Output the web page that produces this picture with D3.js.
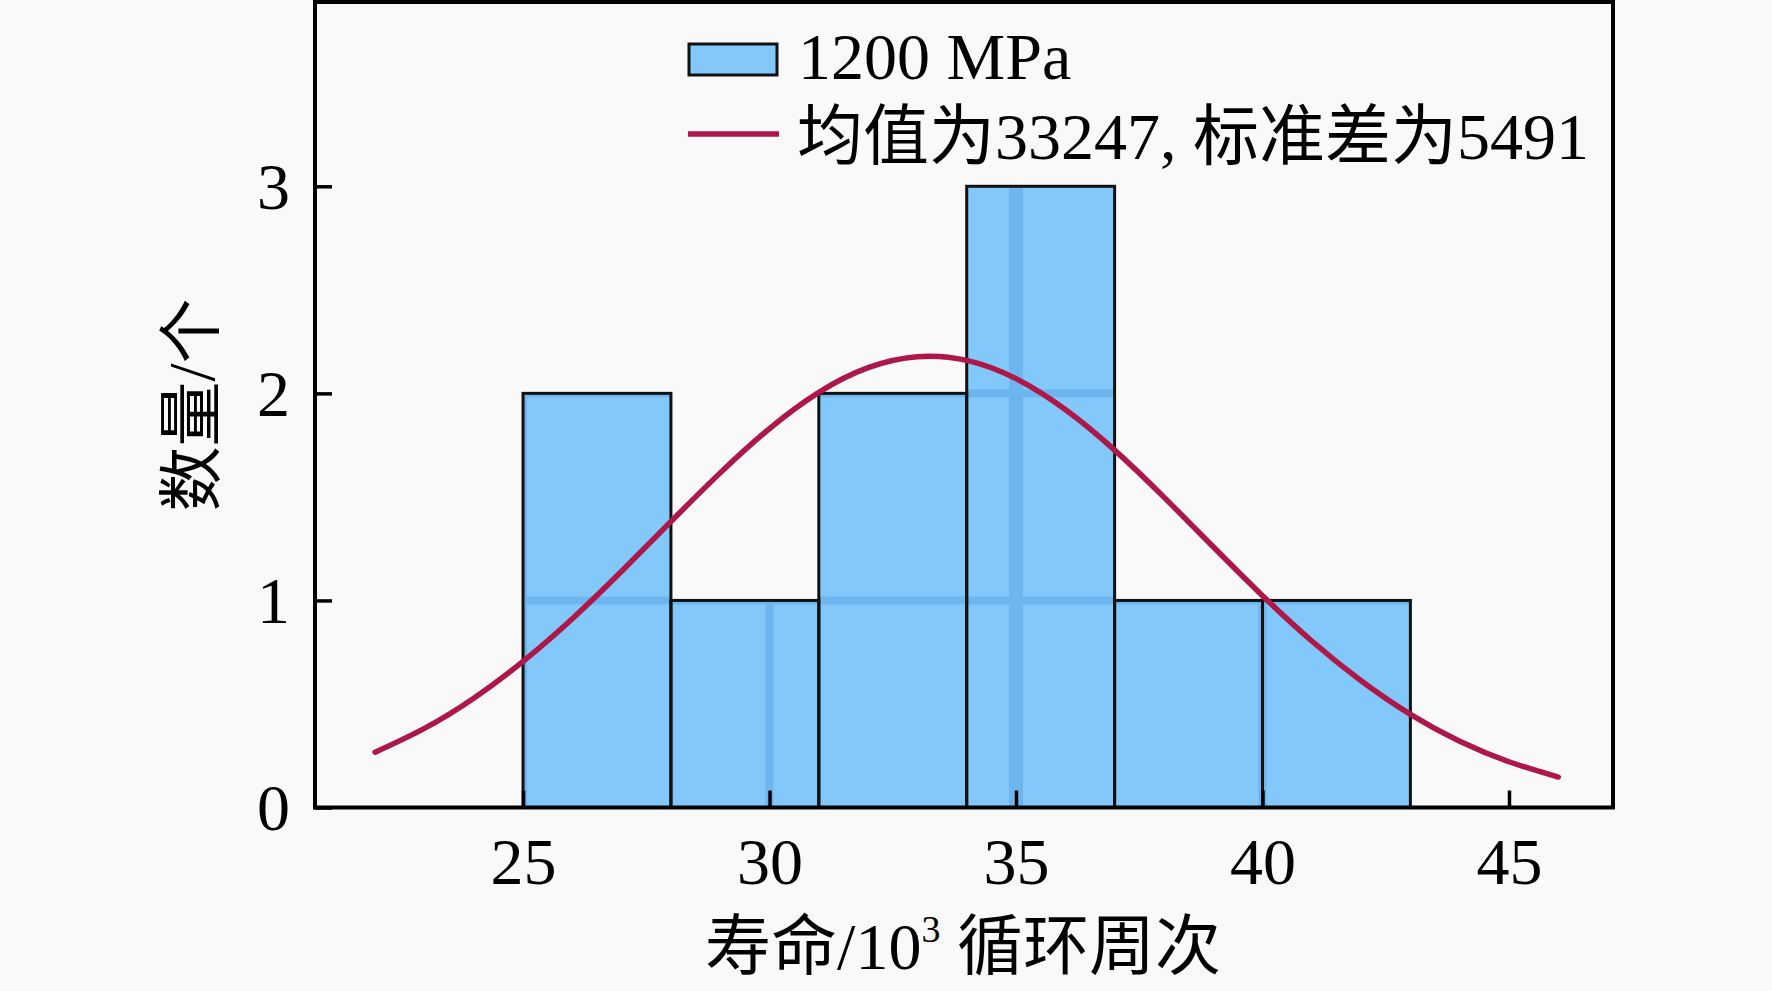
<!DOCTYPE html>
<html>
<head>
<meta charset="utf-8">
<script src="https://cdn.jsdelivr.net/npm/d3@7"></script>
<style>
  html, body { margin: 0; padding: 0; background: #f9f9f9; }
  svg { display: block; }
  text { font-family: "Liberation Serif", "Noto Sans CJK SC", serif; fill: #000; }
</style>
</head>
<body>
<svg id="chart" width="1772" height="991"></svg>
<script>
// ---- data ----
const binLeft  = [25, 28, 31, 34, 37, 40];
const binRight = [28, 31, 34, 37, 40, 43];
const counts   = [2, 1, 2, 3, 1, 1];

// fitted normal curve (mean 33247, sd 5491), read as points
const curveX = [22, 23, 24, 25, 26, 27, 28, 29, 30, 31, 32, 33, 34, 35, 36, 37, 38, 39, 40, 41, 42, 43, 44, 45, 46];
const curveY = [0.267, 0.382, 0.528, 0.706, 0.912, 1.141, 1.381, 1.616, 1.830, 2.005, 2.124, 2.177, 2.159, 2.071, 1.922, 1.726, 1.499, 1.259, 1.023, 0.804, 0.612, 0.450, 0.320, 0.221, 0.147];

const xTicks = [25, 30, 35, 40, 45];
const yTicks = [0, 1, 2, 3];
const gridX = [25, 30, 35, 40];
const gridY = [1, 2];

const legendBar = "1200 MPa";
const legendCurve = "均值为33247, 标准差为5491";
const xLabelMain = "寿命/10";
const xLabelSup = "3";
const xLabelRest = " 循环周次";
const yLabel = "数量/个";

// ---- drawing ----
const svg = d3.select("#chart");
const x = d3.scaleLinear().domain([20.78, 47.11]).range([315, 1613]);
const y = d3.scaleLinear().domain([0, 3.89]).range([807.5, 2]);

svg.append("rect").attr("width", 1772).attr("height", 991).attr("fill", "#f9f9f9");

const bins = counts.map((c, i) => ({ x0: binLeft[i], x1: binRight[i], c }));

const defs = svg.append("defs");
const clip = defs.append("clipPath").attr("id", "barclip");
clip.selectAll("rect").data(bins).join("rect")
  .attr("x", d => x(d.x0)).attr("width", d => x(d.x1) - x(d.x0))
  .attr("y", d => y(d.c)).attr("height", d => y(0) - y(d.c));

svg.append("g").selectAll("rect").data(bins).join("rect")
  .attr("x", d => x(d.x0)).attr("width", d => x(d.x1) - x(d.x0))
  .attr("y", d => y(d.c)).attr("height", d => y(0) - y(d.c))
  .attr("fill", "#83c8fa");

const stripes = svg.append("g").attr("clip-path", "url(#barclip)");
stripes.selectAll("line.v").data(gridX).join("line").attr("class", "v")
  .attr("x1", d => x(d)).attr("x2", d => x(d)).attr("y1", y(3.89)).attr("y2", y(0))
  .attr("stroke", "#6db5ee").attr("stroke-width", d => d === 35 ? 14 : 8);
stripes.selectAll("line.h").data(gridY).join("line").attr("class", "h")
  .attr("x1", x(20.78)).attr("x2", x(47.11)).attr("y1", d => y(d)).attr("y2", d => y(d))
  .attr("stroke", "#6db5ee").attr("stroke-width", 8);

svg.append("g").selectAll("rect").data(bins).join("rect")
  .attr("x", d => x(d.x0)).attr("width", d => x(d.x1) - x(d.x0))
  .attr("y", d => y(d.c)).attr("height", d => y(0) - y(d.c))
  .attr("fill", "none").attr("stroke", "#111").attr("stroke-width", 3);

// curve
const line = d3.line().x(d => x(d[0])).y(d => y(d[1])).curve(d3.curveNatural);
svg.append("path").datum(curveX.map((v, i) => [v, curveY[i]]))
  .attr("d", line).attr("fill", "none").attr("stroke", "#ad1849").attr("stroke-width", 5.5)
  .attr("stroke-linecap", "round");

// frame
svg.append("rect").attr("x", x(20.78)).attr("y", y(3.89))
  .attr("width", x(47.11) - x(20.78)).attr("height", y(0) - y(3.89))
  .attr("fill", "none").attr("stroke", "#000").attr("stroke-width", 4);

// axes
const xAxis = d3.axisBottom(x).tickValues(xTicks).tickSize(-17).tickPadding(0).tickFormat(d3.format("d"));
const gx = svg.append("g").attr("transform", `translate(0,${y(0)})`).call(xAxis);
gx.select(".domain").remove();
gx.selectAll(".tick line").attr("stroke", "#000").attr("stroke-width", 3.5);
gx.selectAll(".tick text").attr("font-size", 66).attr("dy", null).attr("y", 76)
  .attr("font-family", "Liberation Serif");

const yAxis = d3.axisLeft(y).tickValues(yTicks).tickSize(-17).tickPadding(0).tickFormat(d3.format("d"));
const gy = svg.append("g").attr("transform", `translate(${x(20.78)},0)`).call(yAxis);
gy.select(".domain").remove();
gy.selectAll(".tick line").attr("stroke", "#000").attr("stroke-width", 3.5);
gy.selectAll(".tick text").attr("font-size", 66).attr("x", -25).attr("dy", "0.34em")
  .attr("font-family", "Liberation Serif");

// axis titles
const xt = svg.append("text").attr("x", 963).attr("y", 969).attr("text-anchor", "middle").attr("font-size", 66);
xt.append("tspan").text(xLabelMain);
xt.append("tspan").text(xLabelSup).attr("font-size", 38).attr("dy", -27);
xt.append("tspan").text(xLabelRest).attr("dy", 27);

svg.append("text").attr("transform", "translate(214,405) rotate(-90)")
  .attr("text-anchor", "middle").attr("font-size", 65).text(yLabel);

// legend
svg.append("rect").attr("x", 689).attr("y", 44).attr("width", 88).attr("height", 31)
  .attr("fill", "#83c8fa").attr("stroke", "#111").attr("stroke-width", 3);
svg.append("text").attr("x", 798).attr("y", 79).attr("font-size", 66).text(legendBar);
svg.append("line").attr("x1", 688).attr("x2", 779).attr("y1", 134).attr("y2", 134)
  .attr("stroke", "#ad1849").attr("stroke-width", 5.5);
svg.append("text").attr("x", 797).attr("y", 159).attr("font-size", 66).text(legendCurve);
</script>
</body>
</html>
